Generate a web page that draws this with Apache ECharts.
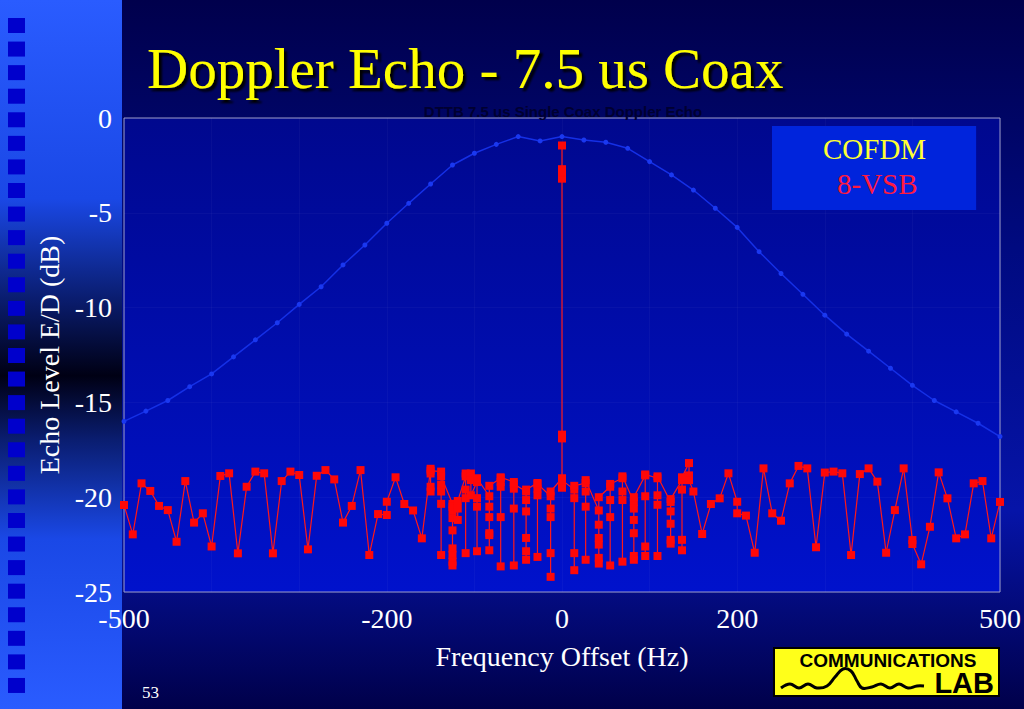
<!DOCTYPE html>
<html>
<head>
<meta charset="utf-8">
<script src="https://cdn.jsdelivr.net/npm/echarts@6/dist/echarts.min.js"></script>
<style>html,body{margin:0;padding:0;background:#000050;}#c{width:1024px;height:709px;}</style>
</head>
<body>
<div id="c"></div>
<script>
// ---- data ----
const xLabelValues = [-500, -200, 0, 200, 500];
const yTicks = [0, -5, -10, -15, -20, -25];

const cofdmFreq = [-500,-475,-450,-425,-400,-375,-350,-325,-300,-275,-250,-225,-200,-175,-150,-125,-100,-75,-50,-25,0,
                   25,50,75,100,125,150,175,200,225,250,275,300,325,350,375,400,425,450,475,500];
const cofdmLevel = [-16.0,-15.46,-14.9,-14.17,-13.5,-12.6,-11.7,-10.8,-9.83,-8.9,-7.75,-6.7,-5.55,-4.5,-3.48,-2.48,-1.86,-1.39,-0.98,-1.21,-0.98,
                    -1.16,-1.28,-1.6,-2.3,-3.0,-3.8,-4.76,-5.77,-7.05,-8.2,-9.3,-10.4,-11.4,-12.3,-13.2,-14.1,-14.9,-15.5,-16.1,-16.8];

// 8-VSB readings [frequency Hz, level dB], in measurement order
const vsbOuterLeft = [
  [-500,-20.41],[-490,-21.96],[-480,-19.27],[-470,-19.67],[-460,-20.46],[-450,-20.68],[-440,-22.35],[-430,-19.15],
  [-420,-21.34],[-410,-20.85],[-400,-22.6],[-390,-18.88],[-380,-18.74],[-370,-22.96],[-360,-19.45],[-350,-18.65],
  [-340,-18.74],[-330,-22.96],[-320,-19.15],[-310,-18.65],[-300,-18.83],[-290,-22.75],[-280,-18.87],[-270,-18.57],
  [-260,-19.06],[-250,-21.34],[-240,-20.46],[-230,-18.57],[-220,-23.05],[-210,-20.89],[-200,-20.94],[-200,-20.24],
  [-190,-18.95],[-180,-20.36],[-170,-20.7],[-160,-22.17]
];
const vsbCenter = [
  [-150,-18.5],[-150,-18.75],[-150,-19.45],[-150,-19.7],[-150,-18.6],
  [-138,-18.65],[-138,-19.35],[-138,-19.7],[-138,-20.35],[-138,-23.05],[-138,-18.9],
  [-125,-20.35],[-125,-20.7],[-125,-21.1],[-125,-21.75],[-125,-22.7],[-125,-23.05],[-125,-23.4],[-125,-23.6],[-125,-20.5],
  [-119,-20.6],[-119,-21.2],[-119,-20.2],
  [-110,-18.9],[-110,-19.6],[-110,-20.05],[-110,-22.95],[-110,-18.75],
  [-104,-18.75],[-104,-19.1],[-104,-19.9],
  [-97,-19.2],[-97,-20.05],[-97,-20.5],[-97,-22.85],[-97,-19.0],
  [-83,-19.95],[-83,-20.5],[-83,-21.05],[-83,-21.9],[-83,-22.0],[-83,-22.8],[-83,-19.4],
  [-70,-19.0],[-70,-19.2],[-70,-19.45],[-70,-21.05],[-70,-23.65],[-70,-18.95],
  [-55,-19.2],[-55,-19.55],[-55,-20.6],[-55,-23.6],[-55,-19.3],
  [-41,-19.7],[-41,-20.15],[-41,-20.75],[-41,-22.15],[-41,-22.85],[-41,-23.3],[-41,-19.6],
  [-28,-19.25],[-28,-19.55],[-28,-19.9],[-28,-23.15],[-28,-19.3],
  [-13,-19.95],[-13,-20.6],[-13,-21.05],[-13,-22.95],[-13,-24.2],[-13,-19.7],
  [0,-19.0],[0,-16.7],[0,-16.9],[0,-3.2],[0,-2.85],[0,-2.7],[0,-1.45],[0,-2.8],[0,-16.8],[0,-19.5],[0,-19.1],
  [14,-19.6],[14,-20.05],[14,-22.95],[14,-23.85],[14,-19.4],
  [27,-19.25],[27,-19.7],[27,-20.5],[27,-23.3],[27,-19.1],
  [42,-20.7],[42,-21.45],[42,-22.15],[42,-22.5],[42,-23.2],[42,-23.5],[42,-20.0],
  [55,-19.45],[55,-20.15],[55,-21.05],[55,-23.6],[55,-19.3],
  [69,-19.0],[69,-19.7],[69,-20.15],[69,-23.4],[69,-18.9],
  [82,-20.25],[82,-20.6],[82,-21.2],[82,-21.9],[82,-23.1],[82,-23.3],[82,-20.0],
  [95,-18.85],[95,-19.95],[95,-22.6],[95,-23.1],[95,-18.8],
  [109,-19.0],[109,-19.9],[109,-20.4],[109,-23.1],[109,-18.9],
  [124,-20.25],[124,-20.75],[124,-21.4],[124,-22.45],[124,-22.25],[124,-20.1],
  [137,-19.1],[137,-19.6],[137,-22.25],[137,-22.8],[137,-18.95],
  [145,-18.2],[145,-18.85],[145,-19.1],
  [150,-19.7]
];
const vsbOuterRight = [
  [160,-21.94],[170,-20.36],[180,-20.06],[190,-18.74],[200,-20.24],[200,-20.85],[210,-20.97],[220,-22.93],
  [230,-18.48],[240,-20.85],[250,-21.24],[260,-19.27],[270,-18.35],[280,-18.48],[290,-22.64],[300,-18.7],
  [310,-18.65],[320,-18.74],[330,-23.05],[340,-18.78],[350,-18.48],[360,-19.18],[370,-22.93],[380,-20.68],
  [390,-18.48],[400,-22.26],[400,-22.47],[410,-23.54],[420,-21.56],[430,-18.69],[440,-20.06],[450,-22.17],
  [460,-21.96],[470,-19.27],[480,-19.15],[490,-22.17],[500,-20.25]
];

// ---- chart ----
const chart = echarts.init(document.getElementById('c'), null, {renderer: 'svg', width: 1024, height: 709});
const serif = '"Liberation Serif","Times New Roman",serif';

const squares = [];
for (let i = 0; i < 29; i++) {
  squares.push({type: 'rect', z: -9, silent: true,
    shape: {x: 8, y: 18 + i * 23.57, width: 17, height: 15},
    style: {fill: '#0000cc'}});
}

const wavePts = [[781,688],[790,684],[799,688],[808,684],[817,688],[827,686],[835,677],[843,669],[851,671],[857,681],[862,688],[872,687],[881,684],[890,688],[899,684],[908,688],[917,686],[924,686]];

chart.setOption({
  animation: false,
  backgroundColor: {type: 'linear', x: 0, y: 0, x2: 0, y2: 1, colorStops: [
    {offset: 0, color: '#00004c'}, {offset: 0.35, color: '#000a80'}, {offset: 0.72, color: '#0614a8'}, {offset: 1, color: '#00004a'}]},
  title: [{
    text: 'Doppler Echo - 7.5 us Coax', left: 142, top: 35,
    textStyle: {color: '#ffff00', fontFamily: serif, fontWeight: 'normal', fontSize: 57,
      textShadowColor: '#000000', textShadowOffsetX: 3, textShadowOffsetY: 3, textShadowBlur: 2}
  }, {
    text: 'DTTB 7.5 us Single Coax Doppler Echo', left: 558, top: 99, textAlign: 'center',
    textStyle: {color: '#000030', fontFamily: 'Arial, "Liberation Sans", sans-serif', fontWeight: 'bold', fontSize: 15}
  }, {
    text: '53', left: 137, top: 679,
    textStyle: {color: '#ffffff', fontFamily: serif, fontWeight: 'normal', fontSize: 17}
  }],
  legend: {
    orient: 'vertical', left: 772, top: 126, width: 204,
    icon: 'none', itemWidth: 0, itemGap: 6, selectedMode: false,
    padding: [8, 50, 12, 46],
    backgroundColor: '#0024dc',
    data: [
      {name: 'COFDM', textStyle: {color: '#ffff33'}},
      {name: '8-VSB', textStyle: {color: '#ff1a40', padding: [0, 0, 0, 14]}}
    ],
    textStyle: {fontFamily: serif, fontSize: 29}
  },
  grid: {
    left: 124, right: 22, top: 118, bottom: 117, show: true,
    borderColor: '#9a9ac8', borderWidth: 1,
    backgroundColor: {type: 'linear', x: 0, y: 0, x2: 0, y2: 1, colorStops: [
      {offset: 0, color: '#00088e'}, {offset: 1, color: '#0012cc'}]}
  },
  xAxis: {
    type: 'value', min: -500, max: 500, interval: 100,
    name: 'Frequency Offset (Hz)', nameLocation: 'middle', nameGap: 50,
    nameTextStyle: {color: '#ffffff', fontFamily: serif, fontSize: 28},
    axisLine: {show: false}, axisTick: {show: false},
    splitLine: {show: true, lineStyle: {color: 'rgba(255,255,255,0.03)'}},
    axisLabel: {color: '#ffffff', fontFamily: serif, fontSize: 28, margin: 12,
      formatter: v => xLabelValues.indexOf(v) >= 0 ? String(v) : ''}
  },
  yAxis: {
    type: 'value', min: -25, max: 0, interval: 5,
    name: 'Echo Level E/D (dB)', nameLocation: 'middle', nameGap: 60, nameRotate: 90,
    nameTextStyle: {color: '#ffffff', fontFamily: serif, fontSize: 28},
    axisLine: {show: false}, axisTick: {show: false},
    splitLine: {show: true, lineStyle: {color: 'rgba(255,255,255,0.03)'}},
    axisLabel: {color: '#ffffff', fontFamily: serif, fontSize: 28, margin: 12,
      formatter: v => yTicks.indexOf(v) >= 0 ? String(v) : ''}
  },
  series: [{
    name: 'COFDM', type: 'line',
    data: cofdmFreq.map((f, i) => [f, cofdmLevel[i]]),
    symbol: 'circle', symbolSize: 5,
    lineStyle: {color: '#1530e6', width: 1.5},
    itemStyle: {color: '#1a38f0'}, z: 2
  }, {
    name: '8-VSB', type: 'line',
    data: vsbOuterLeft.concat(vsbCenter, vsbOuterRight),
    symbol: 'rect', symbolSize: 8,
    lineStyle: {color: '#ff1818', width: 1.2},
    itemStyle: {color: '#ff0808'}, z: 3
  }],
  graphic: [
    {type: 'rect', z: -10, silent: true, shape: {x: 0, y: 0, width: 122, height: 709},
      style: {fill: {type: 'linear', x: 0, y: 0, x2: 0, y2: 1, colorStops: [
        {offset: 0, color: '#2a5cff'}, {offset: 0.28, color: '#1a48e6'}, {offset: 0.42, color: '#0a1d70'},
        {offset: 0.53, color: '#000014'}, {offset: 0.62, color: '#0a1d70'}, {offset: 0.76, color: '#1a48e6'},
        {offset: 1, color: '#2a5cff'}]}}},
    ...squares,
    {type: 'group', z: 10, children: [
      {type: 'rect', shape: {x: 774, y: 648, width: 225, height: 48},
        style: {fill: '#ffff1a', stroke: '#000000', lineWidth: 2}},
      {type: 'text', style: {x: 888, y: 660, text: 'COMMUNICATIONS', textAlign: 'center', textVerticalAlign: 'middle',
        fill: '#000000', font: 'bold 19px "Liberation Sans", Arial, sans-serif'}},
      {type: 'text', style: {x: 994, y: 683, text: 'LAB', textAlign: 'right', textVerticalAlign: 'middle',
        fill: '#000000', font: 'bold 29px "Liberation Sans", Arial, sans-serif'}},
      {type: 'polyline', shape: {points: wavePts, smooth: 0.4},
        style: {stroke: '#000000', lineWidth: 3, fill: null}}
    ]}
  ]
});
</script>
</body>
</html>
